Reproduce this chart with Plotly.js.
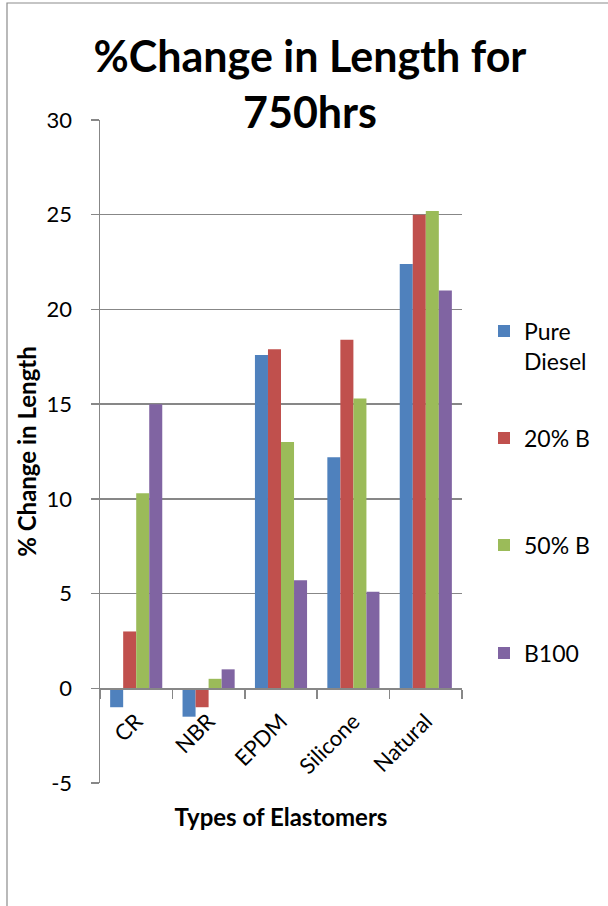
<!DOCTYPE html>
<html>
<head>
<meta charset="utf-8">
<script src="https://cdn.plot.ly/plotly-3.0.1.min.js"></script>
<style>
  html, body { margin: 0; padding: 0; background: #ffffff; }
  #chart { width: 608px; height: 906px; }
</style>
</head>
<body>
<div id="chart"></div>
<script>
// Elastomer types on the category axis
const categories = ['CR', 'NBR', 'EPDM', 'Silicone', 'Natural'];

// % change in length after 750 hours, one array per fuel blend
const pureDiesel = [-1.0, -1.5, 17.6, 12.2, 22.4];
const blend20 = [3.0, -1.0, 17.9, 18.4, 25.0];
const blend50 = [10.3, 0.5, 13.0, 15.3, 25.2];
const blend100 = [15.0, 1.0, 5.7, 5.1, 21.0];

const seriesNames = ['Pure<br>Diesel', '20% B', '50% B', 'B100'];
const seriesValues = [pureDiesel, blend20, blend50, blend100];
const seriesColors = ['#4F81BD', '#C0504D', '#9BBB59', '#8064A2'];

// y ticks, written with a plain hyphen for the negative value
const yTickValues = [-5, 0, 5, 10, 15, 20, 25, 30];
const yTickText = ['-5', '0', '5', '10', '15', '20', '25', '30'];

const FONT = 'Lato, "Open Sans", sans-serif';
const GRID = '#878787';

// plot area in pixels, used to place the legend entries beside it
const PLOT_TOP = 120, PLOT_BOTTOM = 783, PLOT_LEFT = 100, PLOT_RIGHT = 462;
const toPaperY = py => (PLOT_BOTTOM - py) / (PLOT_BOTTOM - PLOT_TOP);
const toPaperX = px => (px - PLOT_LEFT) / (PLOT_RIGHT - PLOT_LEFT);

// each series gets its own legend box so the entries sit evenly down the side
const legendIds = ['legend', 'legend2', 'legend3', 'legend4'];
const legendCentres = [346, 438, 545, 653];

const traces = seriesValues.map((vals, i) => ({
  type: 'bar',
  name: seriesNames[i],
  x: categories,
  y: vals,
  legend: legendIds[i],
  showlegend: true,
  marker: { color: seriesColors[i], line: { width: 0 } }
}));

const yMin = -5, yMax = 30;

const layout = {
  width: 608,
  height: 906,
  showlegend: true,
  margin: { l: PLOT_LEFT, r: 608 - PLOT_RIGHT, t: PLOT_TOP, b: 906 - PLOT_BOTTOM },
  paper_bgcolor: '#ffffff',
  plot_bgcolor: '#ffffff',
  font: { family: FONT, color: '#000000' },
  barmode: 'group',
  bargap: 0.28,
  bargroupgap: 0,
  title: {
    text: '<b>%Change in Length for<br>750hrs</b>',
    font: { family: FONT, size: 43, color: '#000000' },
    xref: 'container', x: 310 / 608, xanchor: 'center',
    yref: 'container', y: 1 - 72 / 906, yanchor: 'top'
  },
  xaxis: {
    type: 'category',
    anchor: 'free',
    position: (0 - yMin) / (yMax - yMin),
    showline: true, linecolor: GRID, linewidth: 1.5,
    ticks: 'outside', tickson: 'boundaries', ticklen: 9, tickcolor: GRID, tickwidth: 1.5,
    tickangle: -45,
    ticklabelstandoff: 10,
    tickfont: { family: FONT, size: 22, color: '#000000' },
    showgrid: false,
    zeroline: false,
    title: {
      text: '<b>Types of Elastomers</b>',
      font: { family: FONT, size: 24, color: '#000000' },
      standoff: 31
    }
  },
  yaxis: {
    range: [yMin, yMax],
    tickvals: yTickValues,
    ticktext: yTickText,
    showgrid: true, gridcolor: GRID, gridwidth: 1.5,
    zeroline: false,
    showline: true, linecolor: GRID, linewidth: 1.5,
    ticks: 'outside', ticklen: 8, tickcolor: GRID, tickwidth: 1.5,
    ticklabelstandoff: 14,
    tickfont: { family: FONT, size: 22, color: '#000000' },
    title: {
      text: '<b>% Change in Length</b>',
      font: { family: FONT, size: 24, color: '#000000' },
      standoff: 3
    }
  },
  shapes: [
    // chart area border
    {
      type: 'rect', xref: 'paper', yref: 'paper', layer: 'below',
      x0: toPaperX(7), x1: toPaperX(620),
      y0: toPaperY(920), y1: toPaperY(3),
      line: { color: '#8c8c8c', width: 1.2 }, fillcolor: 'rgba(0,0,0,0)'
    }
  ]
};

legendIds.forEach((id, i) => {
  layout[id] = {
    x: toPaperX(484), xanchor: 'left',
    y: toPaperY(legendCentres[i]), yanchor: 'middle',
    valign: 'top',
    font: { family: FONT, size: 23, color: '#000000' },
    bgcolor: 'rgba(0,0,0,0)'
  };
});

Plotly.newPlot('chart', traces, layout, { displayModeBar: false, staticPlot: true });
</script>
</body>
</html>
